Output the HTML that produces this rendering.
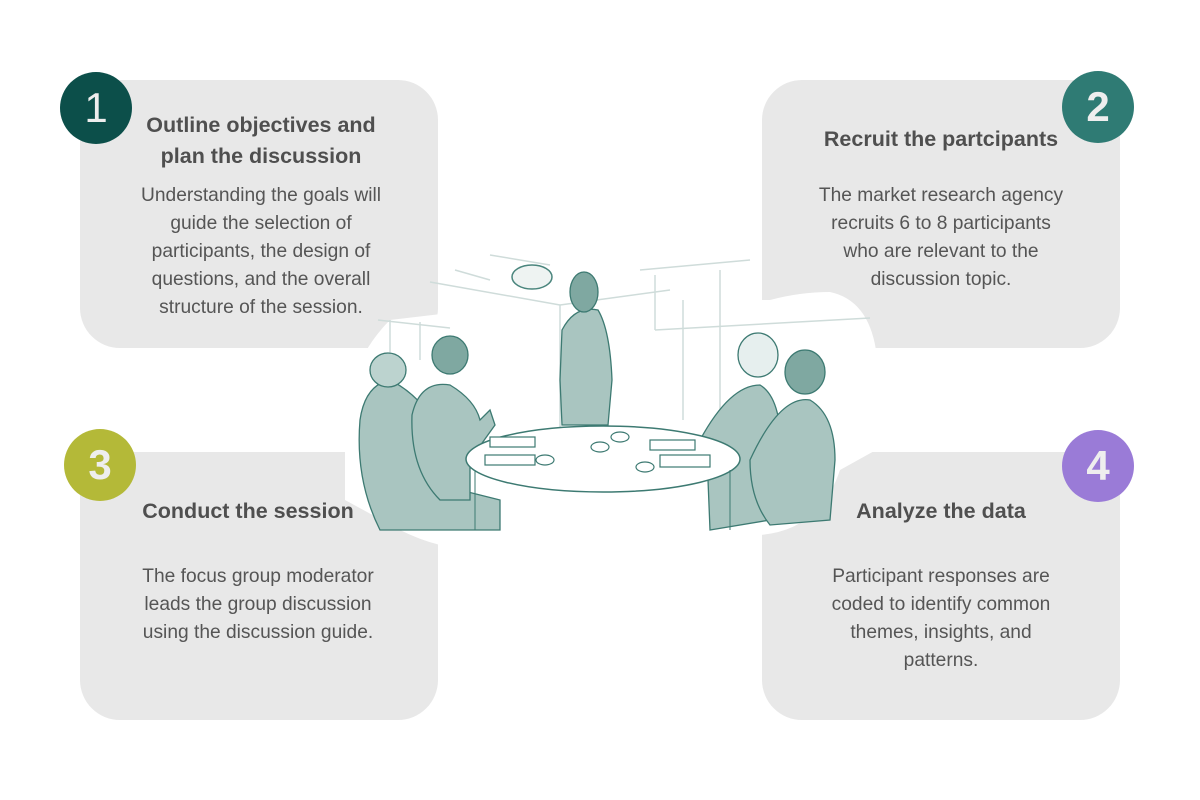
<!DOCTYPE html>
<html><head><meta charset="utf-8"><style>
body{margin:0;width:1200px;height:800px;background:#fff;position:relative;overflow:hidden;font-family:"Liberation Sans",sans-serif}
.card{position:absolute;width:358px;height:268px;background:#e8e8e8;border-radius:40px}
.c{position:absolute;width:72px;height:72px;border-radius:50%;color:#eee;font-size:42px;text-align:center;line-height:72px}
.t{position:absolute;text-align:center;color:#4f4f4f;font-weight:bold;font-size:21.5px;line-height:31px}
.b{position:absolute;text-align:center;color:#555;font-size:19.2px;line-height:28px}
svg{position:absolute;left:0;top:0}
</style></head><body>
<div class="card" style="left:80px;top:80px"></div>
<div class="card" style="left:762px;top:80px"></div>
<div class="card" style="left:80px;top:452px"></div>
<div class="card" style="left:762px;top:452px"></div>
<svg width="1200" height="800">
<path d="M390 320 L560 300 L770 300 Q800 292 830 292 Q868 300 876 350 L876 450 L840 470 Q820 530 760 535 L720 535 L440 545 Q420 540 400 530 L345 500 L345 420 Q350 360 390 320Z" fill="#fff"/>
<g stroke="#cfdcda" stroke-width="1.5" fill="none">
<line x1="430" y1="282" x2="560" y2="305"/><line x1="560" y1="305" x2="560" y2="430"/><line x1="560" y1="305" x2="670" y2="290"/>
<line x1="640" y1="270" x2="750" y2="260"/><line x1="655" y1="275" x2="655" y2="330"/><line x1="683" y1="300" x2="683" y2="420"/>
<line x1="655" y1="330" x2="870" y2="318"/><line x1="720" y1="270" x2="720" y2="420"/>
<line x1="378" y1="320" x2="450" y2="328"/><line x1="390" y1="320" x2="390" y2="360"/><line x1="420" y1="322" x2="420" y2="360"/>
<line x1="490" y1="255" x2="550" y2="265"/><line x1="455" y1="270" x2="490" y2="280"/>
</g>
<ellipse cx="532" cy="277" rx="20" ry="12" fill="#eef3f2" stroke="#4a857d" stroke-width="1.5"/>
<g fill="#a9c5c0" stroke="#3d7a72" stroke-width="1.3">
<path d="M562 330 Q575 305 598 310 Q610 330 612 380 L608 425 L562 425 L560 380Z"/>
<ellipse cx="584" cy="292" rx="14" ry="20" fill="#7fa8a1"/>
<path d="M360 420 Q365 385 390 380 Q420 395 440 430 L460 490 L500 500 L500 530 L380 530 Q355 480 360 420Z"/>
<ellipse cx="388" cy="370" rx="18" ry="17" fill="#bcd3cf"/>
<path d="M412 415 Q420 380 450 385 Q475 400 480 420 L490 410 L495 425 L470 460 L470 500 L440 500 Q410 470 412 415Z"/>
<ellipse cx="450" cy="355" rx="18" ry="19" fill="#7fa8a1"/>
<path d="M700 440 Q730 385 760 385 Q785 400 780 470 L770 520 L710 530 L708 480Z"/>
<ellipse cx="758" cy="355" rx="20" ry="22" fill="#e6efee"/>
<path d="M750 460 Q780 395 810 400 Q835 415 835 460 L830 520 L770 525 Q750 500 750 460Z"/>
<ellipse cx="805" cy="372" rx="20" ry="22" fill="#7fa8a1"/>
</g>
<ellipse cx="603" cy="459" rx="137" ry="33" fill="#fff" stroke="#3d7a72" stroke-width="1.5"/>
<path d="M475 470 L475 530 M730 470 L730 530" stroke="#3d7a72"/>
<g fill="#fff" stroke="#3d7a72" stroke-width="1.2">
<rect x="490" y="437" width="45" height="10"/><rect x="485" y="455" width="50" height="10"/><rect x="650" y="440" width="45" height="10"/><rect x="660" y="455" width="50" height="12"/>
<ellipse cx="545" cy="460" rx="9" ry="5"/><ellipse cx="600" cy="447" rx="9" ry="5"/><ellipse cx="620" cy="437" rx="9" ry="5"/><ellipse cx="645" cy="467" rx="9" ry="5"/>
</g>
</svg>
<div class="c" style="left:60px;top:72px;background:#0c4f4a">1</div>
<div class="c" style="left:1062px;top:71px;background:#2f7b74;font-weight:bold">2</div>
<div class="c" style="left:64px;top:429px;background:#b4b938;font-weight:bold">3</div>
<div class="c" style="left:1062px;top:430px;background:#9a7bd7;font-weight:bold">4</div>
<div class="t" style="left:100px;top:110px;width:322px">Outline objectives and<br>plan the discussion</div>
<div class="b" style="left:90px;top:182px;width:342px">Understanding the goals will<br>guide the selection of<br>participants, the design of<br>questions, and the overall<br>structure of the session.</div>
<div class="t" style="left:770px;top:124px;width:342px">Recruit the partcipants</div>
<div class="b" style="left:770px;top:182px;width:342px">The market research agency<br>recruits 6 to 8 participants<br>who are relevant to the<br>discussion topic.</div>
<div class="t" style="left:77px;top:496px;width:342px">Conduct the session</div>
<div class="b" style="left:87px;top:563px;width:342px">The focus group moderator<br>leads the group discussion<br>using the discussion guide.</div>
<div class="t" style="left:770px;top:496px;width:342px">Analyze the data</div>
<div class="b" style="left:770px;top:563px;width:342px">Participant responses are<br>coded to identify common<br>themes, insights, and<br>patterns.</div>
</body></html>
